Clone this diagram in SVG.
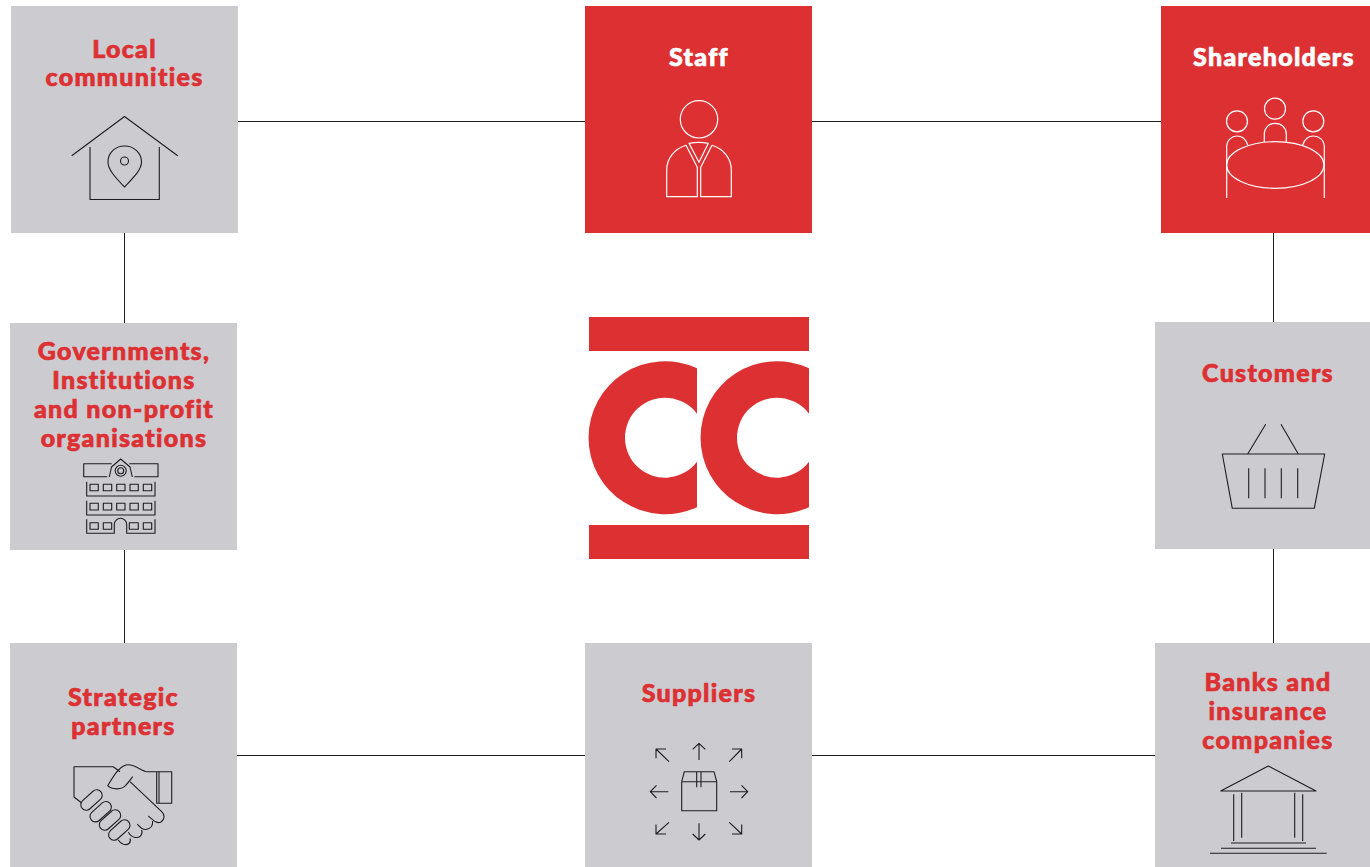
<svg xmlns="http://www.w3.org/2000/svg" width="1370" height="867" viewBox="0 0 1370 867">
<style>
.g{fill:#cccbd0}.r{fill:#dd3033}
.t{font-family:Lato,"Open Sans","Liberation Sans",sans-serif;font-weight:900;font-size:25px;text-anchor:middle;fill:#dd3033;stroke:#dd3033;stroke-width:.7px;letter-spacing:1.3px}
.tw{fill:#fff;stroke:#fff}
.i{fill:none;stroke:#1d1d1f;stroke-width:1.1;stroke-linejoin:round}
.iw{fill:none;stroke:#fff;stroke-width:1.2;stroke-linejoin:round}
.c{stroke:#1d1d1f;stroke-width:1;fill:none}
</style>
<rect width="1370" height="867" fill="#fff"/>
<g id="connectors" class="c">
<path d="M238 121.500H585M812 121.500H1161M124.500 233V323M124.500 550V643M1273.500 233V322M1273.500 549V643M237 755.500H585M812 755.500H1155"/>
</g>
<g id="local-communities">
<rect class="g" x="11" y="6" width="227" height="227"/>
<text class="t" x="124.500" y="58">Local</text>
<text class="t" x="124.500" y="86">communities</text>
<g class="i">
<path d="M71.700 155.700L124.500 116.500L177.700 155.700M90 147V199.500H159.300V147"/>
<path d="M124.500 187C116 178 108 170 108 162C108 153 115 146 124.500 146C134 146 141.500 153 141.500 162C141.500 170 133 178 124.500 187Z"/>
<circle cx="124.500" cy="161" r="4"/>
</g>
</g>
<g id="staff">
<rect class="r" x="585" y="6" width="227" height="227"/>
<text class="t tw" x="699" y="66">Staff</text>
<g class="iw">
<circle cx="699" cy="119.300" r="18.700"/>
<path d="M689 143.300Q699 141.300 708.300 143.300L699 162.300Z"/>
<path d="M686 145.300C674 149 666.700 159 666.700 170V196.700H697.300V167.300Z"/>
<path d="M712 145.300C724 149 731.300 159 731.300 170V196.700H700.700V167.300Z"/>
</g>
</g>
<g id="shareholders">
<rect class="r" x="1161" y="6" width="209" height="227"/>
<text class="t tw" x="1274" y="66">Shareholders</text>
<g class="iw">
<ellipse cx="1275.300" cy="165" rx="48.700" ry="23.300"/>
<circle cx="1237" cy="121.300" r="10.500"/>
<circle cx="1275" cy="108.700" r="10.500"/>
<circle cx="1313.300" cy="121.300" r="10.500"/>
<path d="M1226.700 198V147C1226.700 140 1232 136 1237 136C1242 136 1246 139.500 1247.700 145"/>
<path d="M1264.300 142V134C1264.300 128 1269 123.300 1275.300 123.300C1281.500 123.300 1286.300 128 1286.300 134V142"/>
<path d="M1324.300 198V147C1324.300 140 1319 136 1313.500 136C1308.500 136 1304.500 139.500 1302.700 145"/>
</g>
</g>
<g id="governments">
<rect class="g" x="10" y="323" width="227" height="227"/>
<text class="t" x="124" y="360">Governments,</text>
<text class="t" x="124" y="389">Institutions</text>
<text class="t" x="124" y="418">and non-profit</text>
<text class="t" x="124" y="447">organisations</text>
<g class="i">
<path d="M107.300 476.700H83.700V463.700H111.700M134.300 476.700H158V463.700H129.300M109.300 477L111.500 467L120.700 459L130 467L132.300 477"/>
<circle cx="120.700" cy="470.700" r="5.500"/><circle cx="120.700" cy="470.700" r="3"/>
<path d="M86.700 481.700V496H155V481.700M86.700 500.700V515H155V500.700M86.700 519.300V533.300H114.300V524.500A6.200 6.200 0 0 1 126.700 524.500V533.300H155V519.300"/>
<path d="M90 484.300h8.300v6.400H90zM103.300 484.300h8.400v6.400h-8.400zM116.700 484.300h8.300v6.400h-8.300zM130 484.300h8.300v6.400H130zM143.300 484.300h8.400v6.400h-8.400z"/>
<path d="M90 503.300h8.300v6.700H90zM103.300 503.300h8.400v6.700h-8.400zM116.700 503.300h8.300v6.700h-8.300zM130 503.300h8.300v6.700H130zM143.300 503.300h8.400v6.700h-8.400z"/>
<path d="M90 522.700h8.300v6.600H90zM103.300 522.700h8.400v6.600h-8.400zM129.300 522.700h9v6.600h-9zM143.300 522.700h8.400v6.600h-8.400z"/>
</g>
</g>
<g id="customers">
<rect class="g" x="1155" y="322" width="215" height="227"/>
<text class="t" x="1268" y="382">Customers</text>
<g class="i">
<path d="M1222.300 454H1324.700L1314.300 508.300H1232.300Z"/>
<path d="M1247.700 454L1265.700 424.300M1298.300 454L1281 424.300M1248.700 468.300V498.300M1265 468.300V498.300M1281.300 468.300V498.300M1297.700 468.300V498.300"/>
</g>
</g>
<g id="strategic-partners">
<rect class="g" x="10" y="643" width="227" height="224"/>
<text class="t" x="123.500" y="706">Strategic</text>
<text class="t" x="123.500" y="735">partners</text>
<g class="i">
<path d="M120 771.700L113.300 766.700H74V797L81.700 803"/>
<path d="M146.700 771.700C141 771 134 763 126 765C119 767 114 775 107.700 785.700C112 790 122 790 126 785C129 782 130 780 132.700 776.700"/>
<path d="M130 781.700L161.700 811.700C165 815 165 819 161 822C157 824 154 821 148.300 816M146.700 771.700H156.700"/>
<path d="M152.700 821C153 826 150 829 146 829.500C142 830 140 827 137.300 824"/>
<path d="M141.700 830C143 835 140 838 135 837.500C132 837 130 835 128.300 832.300"/>
<path d="M130 838.300C131.500 843 128 845.500 123.300 844.300C121 843.500 119.500 842 118.300 840"/>
<rect x="156.700" y="771.700" width="15" height="31.600"/><path d="M159 771.700V803.300"/>
<rect x="79" y="794.500" width="25" height="11" rx="5.500" transform="rotate(-42 91.500 800)"/>
<rect x="88.200" y="806.200" width="25" height="11" rx="5.500" transform="rotate(-42 100.700 811.700)"/>
<rect x="97.500" y="814.500" width="25" height="11" rx="5.500" transform="rotate(-42 110 820)"/>
<rect x="106.800" y="824.500" width="25" height="11" rx="5.500" transform="rotate(-42 119.300 830)"/>
</g>
</g>
<g id="suppliers">
<rect class="g" x="585" y="643" width="227" height="224"/>
<text class="t" x="699" y="702">Suppliers</text>
<g class="i">
<path d="M681.700 781.700H716.700V810.700H681.700ZM681.700 781.700L684.300 771.700H714L716.700 781.700M696.700 771.700V787.300M701 771.700V787.300"/>
<path d="M699 760V743.300M692.700 749.300L699 743.300L705.300 749.300M699 823.300V840M692.700 834L699 840L705.300 834M668.300 791.700H650.300M656.500 785.300L650.300 791.700L656.500 798M730 791.700H747.700M741.500 785.300L747.700 791.700L741.500 798"/>
<path d="M669 761.700L656 749M656 758.300V749H666M729.300 761.700L741.700 749M741.700 758.300V749H732M669 822.300L656 834M656 824.500V834H666M729.300 822.300L741.700 834M741.700 824.500V834H732"/>
</g>
</g>
<g id="banks">
<rect class="g" x="1155" y="643" width="215" height="224"/>
<text class="t" x="1268" y="691">Banks and</text>
<text class="t" x="1268" y="720">insurance</text>
<text class="t" x="1268" y="749">companies</text>
<g class="i">
<path d="M1220.700 791L1268.300 766L1316 791ZM1233.700 794.300V841M1241.700 792.700V837.700M1294.700 792.700V837.700M1302.700 794.300V841M1231 843H1306M1221 848.300H1316M1210 853.300H1326.700"/>
</g>
</g>
<g id="logo" class="r">
<rect x="589" y="317" width="220" height="34"/>
<rect x="589" y="525" width="220" height="34"/>
<path d="M697 368.200A76.500 76.500 0 1 0 697 507.200V461.700A40 40 0 1 1 697 413.700Z"/>
<path d="M809 368.200A76.500 76.500 0 1 0 809 507.200V461.700A40 40 0 1 1 809 413.700Z"/>
</g>
</svg>
